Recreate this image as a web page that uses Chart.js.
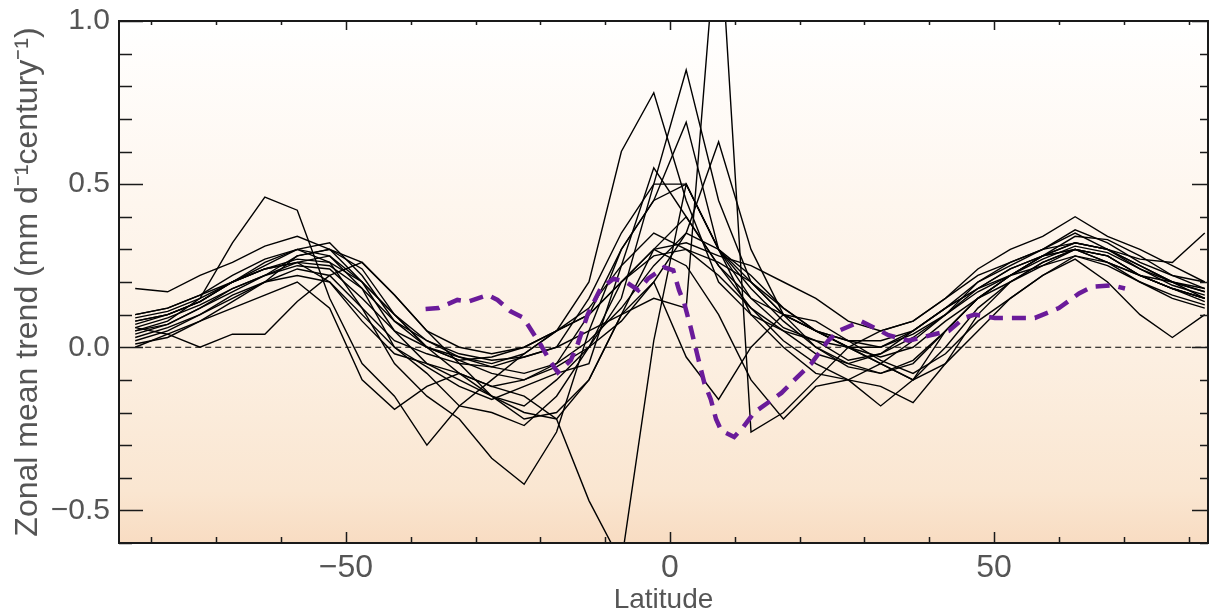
<!DOCTYPE html>
<html>
<head>
<meta charset="utf-8">
<script src="https://cdn.jsdelivr.net/npm/chart.js@4.4.1/dist/chart.umd.min.js"></script>
<style>html,body{margin:0;padding:0;background:#fff;}canvas{display:block;}</style>
</head>
<body>
<canvas id="c" width="1210" height="614"></canvas>
<script>
const latitude = [-82.5,-77.5,-72.5,-67.5,-62.5,-57.5,-52.5,-47.5,-42.5,-37.5,-32.5,-27.5,-22.5,-17.5,-12.5,-7.5,-2.5,2.5,7.5,12.5,17.5,22.5,27.5,32.5,37.5,42.5,47.5,52.5,57.5,62.5,67.5,72.5,77.5,82.5];

const model01 = [0.05,0.08,0.15,0.32,0.46,0.42,0.15,-0.05,-0.15,-0.30, -0.18,-0.1,-0.02,0.05,0.12,0.25,0.35,0.30,0.22,0.12, 0.05,-0.02,-0.05,-0.02,0.05,0.12,0.18,0.22,0.25,0.28, 0.25,0.2,0.15,0.12];
const model02 = [0.1,0.12,0.16,0.22,0.27,0.3,0.26,0.12,-0.05,-0.15, -0.22,-0.34,-0.42,-0.26,0.05,0.3,0.45,0.5,0.3,0.18, 0.08,0.0,-0.06,-0.08,-0.04,0.05,0.15,0.22,0.28,0.32, 0.3,0.25,0.2,0.15];
const model03 = [0.08,0.1,0.14,0.2,0.24,0.26,0.2,0.08,-0.02,-0.05, -0.08,-0.12,-0.15,-0.22,-0.47,-0.66,0.02,0.5,0.3,0.1, 0.05,0.02,0.0,-0.03,0.0,0.08,0.15,0.2,0.25,0.3, 0.28,0.22,0.18,0.14];
const model04 = [0.02,0.05,0.1,0.15,0.2,0.24,0.22,0.12,0.02,-0.02, -0.05,-0.06,-0.03,0.0,0.05,0.1,0.15,0.12,1.35,-0.26, -0.2,-0.1,0.0,0.05,0.08,0.15,0.22,0.26,0.3,0.32, 0.3,0.25,0.2,0.17];
const model05 = [0.06,0.09,0.13,0.18,0.22,0.25,0.24,0.15,0.05,0.0, -0.03,-0.05,-0.02,0.05,0.2,0.6,0.78,0.45,0.2,0.1, 0.0,-0.08,-0.1,-0.05,0.02,0.1,0.18,0.24,0.28,0.3, 0.26,0.22,0.18,0.15];
const model06 = [0.0,0.04,0.08,0.14,0.2,0.28,0.3,0.2,0.05,-0.05, -0.1,-0.15,-0.18,-0.1,0.0,0.15,0.5,0.85,0.45,0.2, 0.1,0.05,0.02,0.0,0.04,0.1,0.2,0.25,0.3,0.35, 0.3,0.24,0.2,0.18];
const model07 = [0.04,0.07,0.12,0.17,0.22,0.28,0.3,0.24,0.1,0.0, -0.08,-0.12,-0.1,-0.05,0.1,0.3,0.45,0.69,0.3,0.15, 0.1,0.05,0.0,-0.05,-0.1,0.0,0.12,0.2,0.26,0.3, 0.28,0.22,0.18,0.15];
const model08 = [0.07,0.1,0.14,0.2,0.26,0.3,0.32,0.22,0.08,0.0, -0.04,-0.08,-0.1,-0.06,0.0,0.08,0.2,0.35,0.63,0.3, 0.1,0.0,-0.05,-0.08,-0.05,0.05,0.15,0.22,0.28,0.34, 0.33,0.28,0.22,0.18];
const model09 = [0.09,0.11,0.15,0.2,0.24,0.26,0.25,0.18,0.08,0.02, -0.02,-0.04,-0.03,0.0,0.15,0.35,0.5,0.5,0.3,0.2, 0.1,0.05,0.02,0.02,0.05,0.12,0.2,0.26,0.3,0.36, 0.32,0.26,0.22,0.2];
const model10 = [0.06,0.04,0.0,0.04,0.04,0.14,0.22,0.26,0.16,0.05, -0.05,-0.15,-0.22,-0.2,-0.1,0.1,0.2,-0.03,-0.16,0.0, 0.1,0.08,0.02,-0.04,-0.08,-0.02,0.08,0.15,0.22,0.28, 0.26,0.22,0.2,0.17];
const model11 = [0.1,0.12,0.16,0.2,0.25,0.3,0.28,0.2,0.1,0.02, -0.03,-0.06,-0.08,-0.05,0.02,0.12,0.25,0.35,0.3,0.22, 0.12,0.05,0.0,-0.05,-0.1,-0.05,0.05,0.15,0.22,0.27, 0.2,0.1,0.03,0.1];
const model12 = [0.03,0.06,0.1,0.16,0.2,0.22,0.2,0.1,0.0,-0.08, -0.18,-0.2,-0.24,-0.15,0.0,0.2,0.3,0.25,0.1,-0.1, -0.22,-0.12,-0.1,-0.18,-0.1,0.05,0.15,0.22,0.28,0.32, 0.3,0.27,0.26,0.35];
const model13 = [0.18,0.17,0.22,0.26,0.31,0.34,0.3,0.26,0.16,0.05, 0.0,-0.02,0.0,0.05,0.1,0.2,0.3,0.32,0.28,0.25, 0.2,0.15,0.08,0.05,0.08,0.15,0.24,0.3,0.34,0.4, 0.34,0.3,0.25,0.2];
const model14 = [0.01,0.03,0.08,0.12,0.16,0.2,0.12,-0.1,-0.19,-0.12, -0.08,-0.15,-0.2,-0.22,-0.1,0.1,0.3,0.4,0.25,0.12, 0.02,-0.05,-0.1,-0.12,-0.17,-0.05,0.1,0.2,0.26,0.3, 0.26,0.2,0.16,0.13];
const model15 = [0.08,0.1,0.14,0.2,0.24,0.27,0.26,0.2,0.1,0.0, -0.04,-0.03,0.0,0.05,0.1,0.2,0.28,0.3,0.26,0.2, 0.12,0.05,0.0,0.0,0.05,0.12,0.18,0.24,0.28,0.3, 0.28,0.22,0.18,0.15];
const model16 = [0.05,0.07,0.12,0.18,0.22,0.26,0.28,0.18,0.0,-0.06, -0.12,-0.16,-0.12,-0.08,-0.05,0.25,0.55,0.4,0.25,0.15, 0.06,0.02,-0.04,-0.02,0.03,0.1,0.17,0.22,0.27,0.31, 0.29,0.24,0.19,0.16];

const observedLat = [-37.7,-35.7,-32.8,-31.1,-28.1,-26.6,-24.6,-22.6,-21,-19.9,-18.4,-17.3,-15.3,-14.2,-12.7,-11.7,-10.7,-8.7,-6.8,-4.9,-3.4,-0.9,0.5,1.4,2.2,3.2,4.3,5.3,6.3,7.1,7.9,9.9,11.3,13,15.1,17.2,19.2,21.8,24.4,26,29.5,31.5,33.7,36.8,40.8,43,45.4,47,50.1,56.3,60,63.1,65.1,68.2,70.2];
const observedTrend = [0.117,0.12,0.145,0.14,0.16,0.145,0.11,0.09,0.04,0.006,-0.046,-0.077,-0.04,0.012,0.1,0.14,0.18,0.21,0.2,0.175,0.21,0.245,0.236,0.175,0.135,0.06,-0.03,-0.11,-0.16,-0.22,-0.255,-0.275,-0.245,-0.2,-0.17,-0.14,-0.1,-0.05,0.02,0.05,0.08,0.06,0.037,0.02,0.04,0.05,0.09,0.1,0.09,0.09,0.12,0.165,0.185,0.19,0.18];

const xTickValues = [-50, 0, 50];
const yTickValues = [-0.5, 0.0, 0.5, 1.0];
const xRange = [-85, 83];
const yRange = [-0.6, 1.0];

const models = [model01,model02,model03,model04,model05,model06,model07,model08,model09,model10,model11,model12,model13,model14,model15,model16];

const datasets = [];
datasets.push({
  label: 'Observed',
  data: observedLat.map((x, i) => ({x, y: observedTrend[i]})),
  borderColor: '#6a1b9a',
  borderWidth: 4.5,
  borderDash: [14, 9],
  pointRadius: 0,
  tension: 0,
  order: 0
});
datasets.push({
  label: 'zero',
  data: [{x: latitude[0], y: 0}, {x: xRange[1], y: 0}],
  borderColor: '#000',
  borderWidth: 1.2,
  borderDash: [6, 4],
  pointRadius: 0,
  order: 1
});
models.forEach((m, k) => {
  datasets.push({
    label: 'Model ' + (k + 1),
    data: latitude.map((x, i) => ({x, y: m[i]})),
    borderColor: '#000',
    borderWidth: 1.4,
    pointRadius: 0,
    tension: 0,
    order: 2
  });
});

const bgPlugin = {
  id: 'bg',
  beforeDraw(chart) {
    const {ctx, chartArea: a} = chart;
    ctx.save();
    ctx.fillStyle = '#fff';
    ctx.fillRect(0, 0, chart.width, chart.height);
    const g = ctx.createLinearGradient(0, a.top, 0, a.bottom);
    g.addColorStop(0, '#ffffff');
    g.addColorStop(0.35, '#fef6ee');
    g.addColorStop(0.65, '#fcefe1');
    g.addColorStop(0.9, '#fae6d1');
    g.addColorStop(1, '#f8dcc2');
    ctx.fillStyle = g;
    ctx.fillRect(a.left, a.top, a.right - a.left, a.bottom - a.top);
    ctx.restore();
  }
};

const framePlugin = {
  id: 'frame',
  afterDatasetsDraw(chart) {
    const {ctx, chartArea: a, scales: {x, y}} = chart;
    ctx.save();
    ctx.strokeStyle = '#1a1a1a';
    ctx.lineWidth = 1.5;
    for (let v = Math.ceil(yRange[0] * 10); v <= Math.floor(yRange[1] * 10 + 1e-9); v++) {
      const major = v % 5 === 0;
      const py = Math.round(y.getPixelForValue(v / 10)) + 0.5;
      const l1 = major ? 24 : 13, l2 = major ? 16 : 8;
      ctx.beginPath();
      ctx.moveTo(a.left, py); ctx.lineTo(a.left + l1, py);
      ctx.moveTo(a.right, py); ctx.lineTo(a.right - l2, py);
      ctx.stroke();
    }
    for (let v = Math.ceil(xRange[0] / 10); v <= Math.floor(xRange[1] / 10); v++) {
      const major = v % 5 === 0;
      const px = Math.round(x.getPixelForValue(v * 10)) + 0.5;
      const l = major ? 11 : 6;
      ctx.beginPath();
      ctx.moveTo(px, a.bottom); ctx.lineTo(px, a.bottom - l);
      ctx.moveTo(px, a.top); ctx.lineTo(px, a.top + l - 2);
      ctx.stroke();
    }
    ctx.lineWidth = 2;
    ctx.strokeRect(a.left, a.top, a.right - a.left, a.bottom - a.top);
    ctx.restore();
  }
};

new Chart(document.getElementById('c'), {
  type: 'line',
  data: {datasets},
  plugins: [bgPlugin, framePlugin],
  options: {
    responsive: false,
    animation: false,
    devicePixelRatio: 1,
    layout: {padding: {top: 21, right: 2, left: 0, bottom: 0}},
    plugins: {legend: {display: false}, tooltip: {enabled: false}},
    scales: {
      x: {
        type: 'linear', min: xRange[0], max: xRange[1],
        grid: {display: false, drawTicks: false},
        border: {display: false},
        afterBuildTicks: s => { s.ticks = xTickValues.map(v => ({value: v})); },
        afterFit: s => { s.height = 71; s.paddingLeft = 0; s.paddingRight = 0; },
        ticks: {
          font: {family: 'Liberation Sans, Arial, sans-serif', size: 32},
          color: '#555', padding: 6,
          callback: v => (v < 0 ? '\u2212' : '') + Math.abs(v)
        },
        title: {display: true, text: 'Latitude', color: '#555',
          font: {family: 'Liberation Sans, Arial, sans-serif', size: 28, lineHeight: 1},
          padding: {top: 0, bottom: 0}}
      },
      y: {
        type: 'linear', min: yRange[0], max: yRange[1],
        grid: {display: false, drawTicks: false},
        border: {display: false},
        afterBuildTicks: s => { s.ticks = yTickValues.map(v => ({value: v})); },
        afterFit: s => { s.width = 119; s.paddingTop = 0; s.paddingBottom = 0; },
        ticks: {
          font: {family: 'Liberation Sans, Arial, sans-serif', size: 30},
          color: '#555', padding: 9,
          callback: v => (v < 0 ? '\u2212' : '') + Math.abs(v).toFixed(1)
        },
        title: {display: true, text: 'Zonal mean trend (mm d\u207B\u00B9century\u207B\u00B9)', color: '#555',
          font: {family: 'Liberation Sans, Arial, sans-serif', size: 32, lineHeight: 1},
          padding: {top: 12, bottom: 0}}
      }
    }
  }
});
</script>
</body>
</html>
